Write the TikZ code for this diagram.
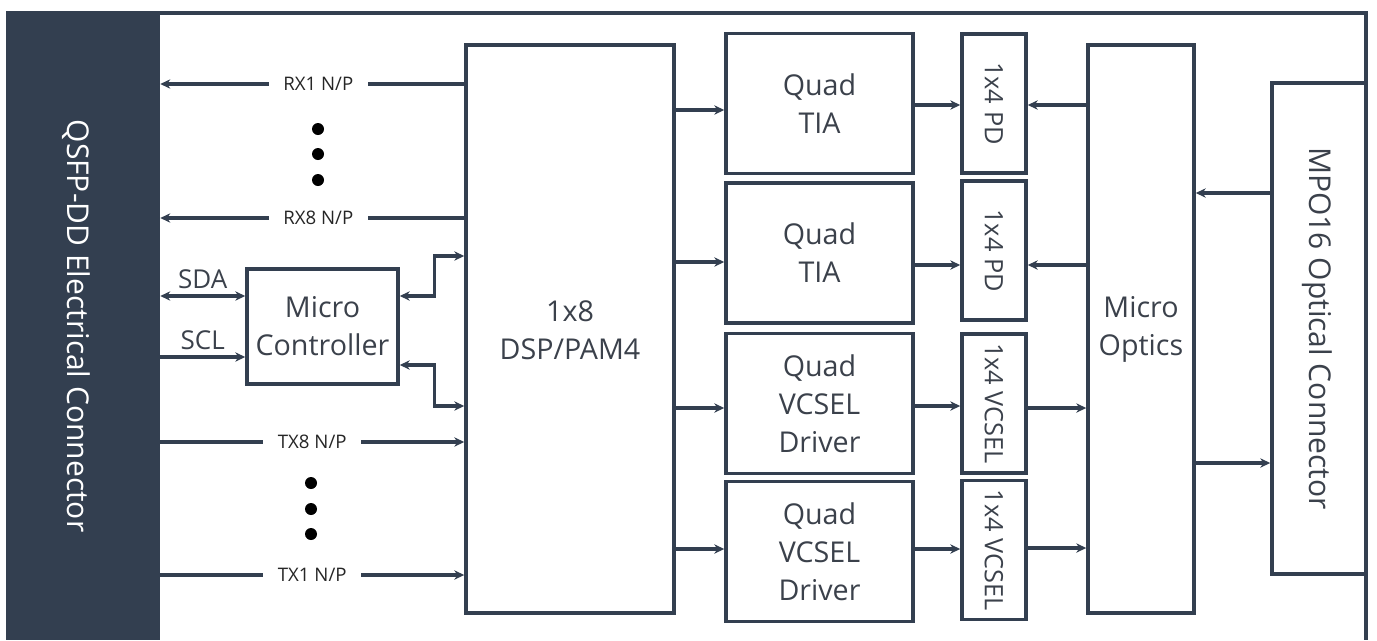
\documentclass[tikz,border=0pt]{standalone}
\usepackage{fontspec}
\setmainfont{Open Sans}
\usetikzlibrary{positioning}
\usetikzlibrary{arrows.meta}
\definecolor{navy}{HTML}{333F50}
\definecolor{ink}{HTML}{3B414B}
\newcommand{\boxfont}{\fontsize{21.5}{28.5}\selectfont}
\newcommand{\sidefont}{\fontsize{22.5}{27}\selectfont}
\newcommand{\arrayfont}{\fontsize{19}{23}\selectfont}
\newcommand{\busfont}{\fontsize{19.5}{23}\selectfont}
\newcommand{\sigfont}{\fontsize{14}{17}\selectfont}

\begin{document}
\begin{tikzpicture}[x=0.75pt,y=-0.75pt,draw=navy,
    >={Stealth[length=7.5pt,width=7pt]}]
        \tikzstyle{block}=[draw=navy,line width=2.6pt,text=ink,align=center,font=\boxfont,inner sep=0pt]
        \tikzstyle{quad}=[block,minimum width=187*\pixel,minimum height=140*\pixel]
        \tikzstyle{array}=[block,minimum width=64*\pixel,minimum height=139*\pixel]
        \tikzstyle{vlabel}=[rotate=-90,text=ink,font=\arrayfont]
        \tikzstyle{wire}=[draw=navy,line width=2.6pt]
        \tikzstyle{sig}=[fill=white,text=black!85,font=\sigfont,inner xsep=11pt,inner ysep=1pt]
        \tikzstyle{bus}=[above,text=ink,font=\busfont,inner sep=4pt]
        % Parameters
        \def\pixel{0.75pt}
        \def\quadX{819.5}
        \def\arrayX{994}

        \useasboundingbox (0,0) rectangle (1377,640);

        % Electrical side and frame
        \node[fill=navy,minimum width=154*\pixel,minimum height=628*\pixel,inner sep=0pt,
            label={[xshift=-5pt,rotate=-90,text=white,font=\sidefont]center:QSFP-DD Electrical Connector}] (band) at (83,326) {};
        \draw[wire] (6,13) -- (1366,13) -- (1366,640);

        % Main blocks
        \node[block,minimum width=151*\pixel,minimum height=115*\pixel] (mcu) at (322.5,326.5) {Micro\\Controller};
        \node[block,minimum width=208*\pixel,minimum height=568*\pixel] (dsp) at (570,329) {};
        \node[text=ink,font=\boxfont,align=center] at (570,330) {1x8\\DSP/PAM4};

        % Quad TIA and VCSEL drivers
        \foreach \name/\y/\txt in {tia1/103.5/{Quad\\TIA},tia2/253/{Quad\\TIA},
                drv1/403.5/{Quad\\VCSEL\\Driver},drv2/551.5/{Quad\\VCSEL\\Driver}}
            \node[quad] (\name) at (\quadX,\y) {\txt};

        % PD and VCSEL arrays
        \foreach \name/\y/\txt in {pd1/103.5/1x4 PD,pd2/250.5/1x4 PD,
                vc1/403.5/1x4 VCSEL,vc2/550/1x4 VCSEL}
            \node[array,label={[vlabel]center:\txt}] (\name) at (\arrayX,\y) {};

        % Optical side
        \node[block,minimum width=106*\pixel,minimum height=568*\pixel] (optics) at (1141,329) {Micro\\Optics};
        \node[block,minimum width=94*\pixel,minimum height=491*\pixel,
            label={[xshift=-1pt,rotate=-90,text=ink,font=\sidefont]center:MPO16 Optical Connector}] (mpo) at (1319,328.5) {};

        % Receive lanes
        \foreach \sig/\y in {RX1/84,RX8/218}
            \draw[wire,->] (dsp.west |- 0,\y) -- node[sig,pos=0.48] {\sig\ N/P} (band.east |- 0,\y);
        % Transmit lanes
        \foreach \sig/\y in {TX8/442,TX1/575}
            \draw[wire,->] (band.east |- 0,\y) -- node[sig] {\sig\ N/P} (dsp.west |- 0,\y);
        \foreach \x/\y in {318/129,318/154,318/180,311/483,311/509,311/534}
            \fill[black] (\x,\y) circle (4.5pt);

        % Management bus
        \draw[wire,<->] (band.east |- 0,296) -- node[bus] {SDA} (mcu.west |- 0,296);
        \draw[wire,->] (band.east |- 0,357) -- node[bus] {SCL} (mcu.west |- 0,357);
        \draw[wire,<->] (mcu.east |- 0,296) -- ++(35,0) |- (dsp.west |- 0,256);
        \draw[wire,<->] (mcu.east |- 0,365) -- ++(35,0) |- (dsp.west |- 0,406);

        % DSP to quad chips
        \foreach \name/\y in {tia1/110,tia2/262,drv1/408,drv2/549}
            \draw[wire,->] (dsp.east |- 0,\y) -- (\name.west |- 0,\y);
        % Quad chips to arrays
        \foreach \from/\to/\y in {tia1/pd1/105,tia2/pd2/265,drv1/vc1/406,drv2/vc2/549}
            \draw[wire,->] (\from.east |- 0,\y) -- (\to.west |- 0,\y);
        % Micro optics to PD, VCSEL to micro optics
        \foreach \to/\y in {pd1/105,pd2/265}
            \draw[wire,->] (optics.west |- 0,\y) -- (\to.east |- 0,\y);
        \foreach \from/\y in {vc1/408,vc2/548}
            \draw[wire,->] (\from.east |- 0,\y) -- (optics.west |- 0,\y);
        % Micro optics and MPO connector
        \draw[wire,->] (mpo.west |- 0,193) -- (optics.east |- 0,193);
        \draw[wire,->] (optics.east |- 0,463) -- (mpo.west |- 0,463);
    \end{tikzpicture}
\end{document}
